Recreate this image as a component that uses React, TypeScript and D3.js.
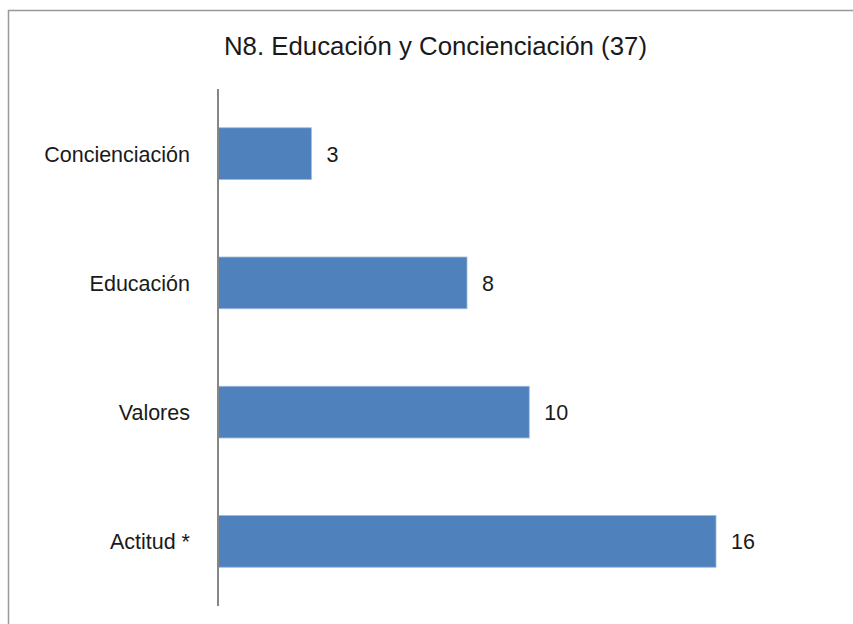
import React from "react";
import * as d3 from "d3";

const categories = ["Concienciación", "Educación", "Valores", "Actitud *"];
const values = [3, 8, 10, 16];
const title = "N8. Educación y Concienciación (37)";

const W = 853;
const H = 624;

export default function App() {
  const x0 = 218;
  const x = d3.scaleLinear().domain([0, 16]).range([x0, 716]);
  const y = d3
    .scaleBand<string>()
    .domain(categories)
    .range([89, 606])
    .paddingInner(0.6)
    .paddingOuter(0.3);
  const font = "'Liberation Sans', Arial, sans-serif";
  return (
    <svg
      width={W}
      height={H}
      style={{ position: "absolute", left: 0, top: 0 }}
      fontFamily={font}
    >
      <rect x={0} y={0} width={W} height={H} fill="#fff" />
      <rect x={8.5} y={10.5} width={1000} height={1000} fill="none" stroke="#999" strokeWidth={1.5} />
      <text x={435.5} y={55} textAnchor="middle" fontSize={25.8} fill="#1a1a1a">
        {title}
      </text>
      {categories.map((c, i) => {
        const yy = y(c)!;
        const bw = y.bandwidth();
        return (
          <g key={c}>
            <rect x={x0} y={yy} width={x(values[i]) - x0} height={bw} fill="#4F81BD" stroke="#9DB8DA" strokeWidth={0.8} />
            <text x={190} y={yy + bw / 2 + 8} textAnchor="end" fontSize={21.5} fill="#1a1a1a">
              {c}
            </text>
            <text x={x(values[i]) + 15} y={yy + bw / 2 + 8} fontSize={21.5} fill="#1a1a1a">
              {values[i]}
            </text>
          </g>
        );
      })}
      <line x1={x0} x2={x0} y1={89} y2={606} stroke="#868686" strokeWidth={2} />
    </svg>
  );
}
